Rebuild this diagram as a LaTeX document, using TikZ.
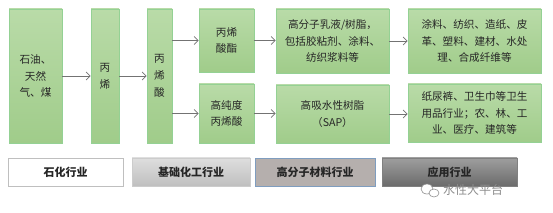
\documentclass[tikz,border=0pt]{standalone}
\usepackage{fontspec}
\setmainfont{Noto Sans CJK SC}
\usetikzlibrary{arrows.meta}
\begin{document}
\begin{tikzpicture}[x=1pt,y=-1pt,
  gbox/.style={draw=green!40!gray!60!white, line width=0.6pt, top color=gtop, bottom color=gbot,
    align=center, inner sep=0pt, text=black!85, font=\fontsize{10.6}{16.8}\selectfont},
  lbox/.style={line width=0.8pt, inner sep=0pt, align=center, text=black!85,
    font=\fontsize{11}{12}\selectfont\bfseries, minimum height=28pt},
  arr/.style={draw=black!55, line width=0.8pt, -{Straight Barb[length=4pt,width=8pt,line width=0.8pt]}}]
\definecolor{gtop}{HTML}{B9DBA8}
\definecolor{gbot}{HTML}{A0CC8A}
\definecolor{lcfill}{HTML}{B5AFAD}
\definecolor{lcdraw}{HTML}{7F9DBF}
\useasboundingbox (0,0) rectangle (553,213);
% main boxes
\node[gbox, minimum width=53pt, minimum height=134pt] (b1) at (35.5,76) {石油、\\天然\\气、煤};
\node[gbox, minimum width=28pt, minimum height=134pt] (b2) at (105,76) {丙\\烯};
\node[gbox, minimum width=25pt, minimum height=134pt] (b3) at (159.5,76) {丙\\烯\\酸};
\node[gbox, minimum width=55pt, minimum height=63pt] (b4) at (226.5,40.5) {丙烯\\酸酯};
\node[gbox, minimum width=55pt, minimum height=59pt] (b5) at (226.5,113.5) {高纯度\\丙烯酸};
\node[gbox, minimum width=113pt, minimum height=64pt] (b6) at (332.5,41) {高分子乳液/树脂，\\包括胶粘剂、涂料、\\纺织浆料等};
\node[gbox, minimum width=133pt, minimum height=64pt] (b7) at (474.5,41) {涂料、纺织、造纸、皮\\革、塑料、建材、水处\\理、合成纤维等};
\node[gbox, minimum width=113pt, minimum height=58pt] (b8) at (332.5,114) {高吸水性树脂\\（SAP）};
\node[gbox, minimum width=133pt, minimum height=58pt] (b9) at (474.5,113) {纸尿裤、卫生巾等卫生\\用品行业；农、林、工\\业、医疗、建筑等};
% arrows
\draw[arr] (b1.east) -- (b2.west);
\draw[arr] (b2.east) -- (b3.west);
\draw[arr] (b3.east |- b4.west) -- (b4.west);
\draw[arr] (b3.east |- b5.west) -- (b5.west);
\draw[arr] (b4.east) -- (b4.east -| b6.west);
\draw[arr] (b5.east) -- (b5.east -| b8.west);
\draw[arr] (b6.east) -- (b7.west);
\draw[arr] (b8.east) -- (b8.east -| b9.west);
% legend
\node[lbox, draw=black!25, fill=white, minimum width=115pt] (l1) at (65.5,172) {石化行业};
\node[lbox, draw=black!20, top color=black!13, bottom color=black!25, minimum width=118pt] (l2) at (191,172) {基础化工行业};
\node[lbox, draw=lcdraw, fill=lcfill, minimum width=120pt] (l3) at (315,172) {高分子材料行业};
\node[lbox, draw=black!50, top color=black!38, bottom color=black!58, minimum width=135pt] (l4) at (449.5,172) {应用行业};
% watermark
\draw[black!45, fill=white, line width=0.6pt] (427,189) ellipse (6pt and 5pt) coordinate (w1);
\draw[black!45, fill=white, line width=0.6pt] (434,193) ellipse (5pt and 4pt) coordinate (w2);
\node[text=black!45, font=\fontsize{12}{12}\selectfont, anchor=west, inner sep=0pt] (wm) at (443,190) {水性大平台};
\end{tikzpicture}
\end{document}
